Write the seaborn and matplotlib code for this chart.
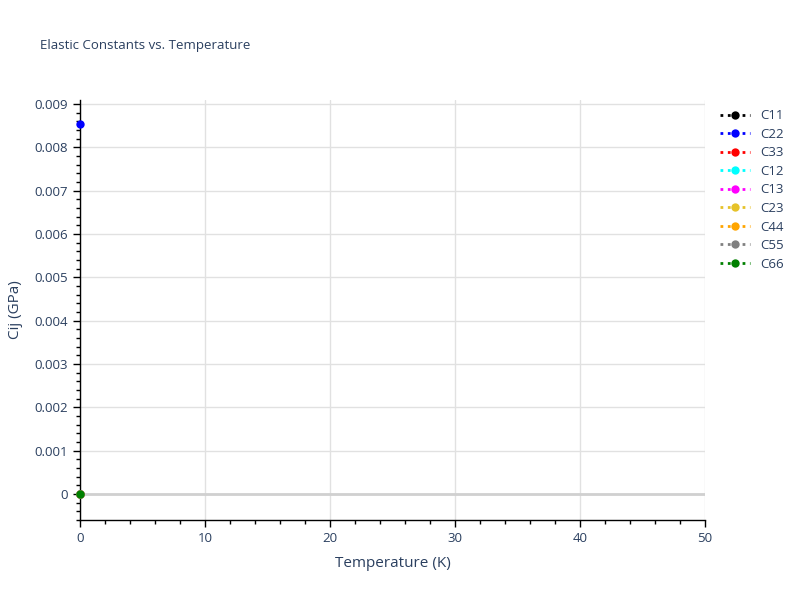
import pandas as pd
import matplotlib
matplotlib.use("Agg")
import matplotlib.pyplot as plt
from matplotlib.ticker import MultipleLocator
import seaborn as sns

# Data (only one temperature point)
temperature = [0]
names = ["C11", "C22", "C33", "C12", "C13", "C23", "C44", "C55", "C66"]
c11 = [0.0]
c22 = [0.00853]
c33 = [0.0]
c12 = [0.0]
c13 = [0.0]
c23 = [0.0]
c44 = [0.0]
c55 = [0.0]
c66 = [0.0]
colors = ["black", "blue", "red", "cyan", "magenta", "#e6c229", "orange", "gray", "green"]

series = [c11, c22, c33, c12, c13, c23, c44, c55, c66]
rows = []
for name, vals in zip(names, series):
    for t, v in zip(temperature, vals):
        rows.append({"T": t, "Cij": v, "name": name})
df = pd.DataFrame(rows)

sns.set_style("white")
plt.rcParams['font.family'] = ['Open Sans', 'DejaVu Sans']
text_col = "#2a3f5f"

fig = plt.figure(figsize=(8, 6), dpi=100)
ax = fig.add_axes([0.1, 0.1333, 0.78125, 0.7])

for name, col in zip(names, colors):
    sub = df[df["name"] == name]
    sns.lineplot(data=sub, x="T", y="Cij", ax=ax, color=col, marker="o",
                 markersize=6, markeredgewidth=0, linestyle=":", linewidth=2,
                 label=name, clip_on=False, zorder=5)

ax.set_xlim(0, 50)
ax.set_ylim(-0.0006, 0.00909)
ax.xaxis.set_major_locator(MultipleLocator(10))
ax.xaxis.set_minor_locator(MultipleLocator(2))
ax.yaxis.set_major_locator(MultipleLocator(0.001))
ax.yaxis.set_minor_locator(MultipleLocator(0.0002))
ax.yaxis.set_major_formatter(matplotlib.ticker.FuncFormatter(
    lambda v, p: "0" if abs(v) < 1e-12 else f"{v:.3f}"))

ax.grid(True, which="major", color="#e1e1e1", linewidth=1)
ax.axhline(0, color="#d0d0d0", linewidth=2, zorder=1)
for s in ["top", "right"]:
    ax.spines[s].set_visible(False)
for s in ["left", "bottom"]:
    ax.spines[s].set_color("black")
    ax.spines[s].set_linewidth(1)
ax.tick_params(which="major", direction="out", length=5, width=1, color="black",
               labelsize=9.5, labelcolor=text_col, left=True, bottom=True)
ax.tick_params(which="minor", direction="out", length=3, width=1, color="black",
               left=True, bottom=True)

ax.set_xlabel("Temperature (K)", fontsize=11, color=text_col, labelpad=8)
ax.set_ylabel("Cij (GPa)", fontsize=11, color=text_col, labelpad=8)
fig.text(0.05, 0.925, "Elastic Constants vs. Temperature", fontsize=9.5,
         color=text_col, va="center")

leg = ax.legend(loc="upper left", bbox_to_anchor=(1.01, 1.0), frameon=False,
                fontsize=9.5, handlelength=2.2, labelspacing=0.42,
                borderaxespad=0.3)
for t in leg.get_texts():
    t.set_color(text_col)

fig.savefig("out.png", dpi=100)
